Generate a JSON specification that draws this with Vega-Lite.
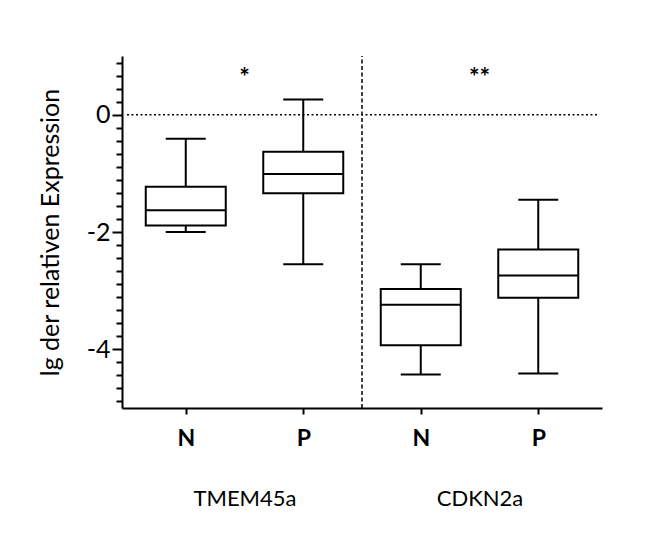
{
  "$schema": "https://vega.github.io/schema/vega-lite/v6.json",
  "width": 480,
  "height": 352,
  "autosize": "none",
  "padding": {"left": 122, "top": 56, "right": 67, "bottom": 125},
  "background": "white",
  "config": {
    "view": {"stroke": null},
    "font": "Lato",
    "axis": {"domainColor": "black", "tickColor": "black", "labelColor": "black", "titleColor": "black", "grid": false}
  },
  "datasets": {
    "boxes": [
      {"gene": "TMEM45a", "group": "N", "x": 0.5, "min": -2.0, "q1": -1.89, "median": -1.63, "q3": -1.23, "max": -0.41},
      {"gene": "TMEM45a", "group": "P", "x": 1.5, "min": -2.55, "q1": -1.34, "median": -1.01, "q3": -0.63, "max": 0.26},
      {"gene": "CDKN2a", "group": "N", "x": 2.5, "min": -4.43, "q1": -3.93, "median": -3.24, "q3": -2.97, "max": -2.55},
      {"gene": "CDKN2a", "group": "P", "x": 3.5, "min": -4.41, "q1": -3.12, "median": -2.74, "q3": -2.30, "max": -1.45}
    ],
    "stars": [
      {"gene": "TMEM45a", "x": 1, "y": 0.62, "label": "*"},
      {"gene": "CDKN2a", "x": 3, "y": 0.62, "label": "**"}
    ]
  },
  "resolve": {"axis": {"x": "independent", "y": "independent"}},
  "layer": [
    {
      "data": {"values": [{}]},
      "mark": {"type": "rule", "strokeDash": [2, 2.5], "strokeWidth": 1.5, "color": "black"},
      "encoding": {
        "x": {"datum": 0, "type": "quantitative", "scale": {"domain": [0, 4]}, "axis": null},
        "x2": {"datum": 4},
        "y": {"datum": 0, "type": "quantitative", "scale": {"domain": [-5, 1]}, "axis": null}
      }
    },
    {
      "data": {"values": [{}]},
      "mark": {"type": "rule", "strokeDash": [4, 2.5], "strokeWidth": 1.5, "color": "black"},
      "encoding": {
        "x": {"datum": 2, "type": "quantitative", "scale": {"domain": [0, 4]}, "axis": null},
        "y": {"datum": -5, "type": "quantitative", "scale": {"domain": [-5, 1]}, "axis": null},
        "y2": {"datum": 1}
      }
    },
    {
      "data": {"name": "boxes"},
      "mark": {"type": "rule", "color": "black", "strokeWidth": 2},
      "encoding": {
        "x": {"field": "x", "type": "quantitative", "scale": {"domain": [0, 4]}, "axis": null},
        "y": {"field": "min", "type": "quantitative", "scale": {"domain": [-5, 1]}, "axis": null},
        "y2": {"field": "max"}
      }
    },
    {
      "data": {"name": "boxes"},
      "mark": {"type": "bar", "size": 80, "fill": "white", "stroke": "black", "strokeWidth": 2},
      "encoding": {
        "x": {"field": "x", "type": "quantitative", "scale": {"domain": [0, 4]},
          "axis": {
            "values": [0.5, 1.5, 2.5, 3.5],
            "labelExpr": "floor(datum.value) % 2 == 0 ? 'N' : 'P'",
            "title": null,
            "orient": "bottom",
            "domainWidth": 2,
            "tickWidth": 2,
            "tickSize": 6,
            "labelFont": "Lato",
            "labelFontWeight": "bold",
            "labelFontSize": 23,
            "labelPadding": 13
          }
        },
        "y": {"field": "q1", "type": "quantitative", "scale": {"domain": [-5, 1]},
          "axis": {
            "values": [0, -2, -4],
            "labelExpr": "datum.value == 0 ? '0' : '-' + abs(datum.value)",
            "orient": "left",
            "title": "lg der relativen Expression",
            "titleFont": "Lato",
            "titleFontWeight": "normal",
            "titleFontSize": 25,
            "titlePadding": 23,
            "labelFont": "Lato",
            "labelFontSize": 25,
            "labelPadding": 2,
            "tickSize": 10,
            "tickWidth": 2,
            "domainWidth": 2
          }
        },
        "y2": {"field": "q3"}
      }
    },
    {
      "data": {"name": "boxes"},
      "mark": {"type": "tick", "orient": "horizontal", "size": 80, "thickness": 2, "color": "black", "opacity": 1},
      "encoding": {
        "x": {"field": "x", "type": "quantitative", "scale": {"domain": [0, 4]}, "axis": null},
        "y": {"field": "median", "type": "quantitative", "scale": {"domain": [-5, 1]}, "axis": null}
      }
    },
    {
      "data": {"name": "boxes"},
      "mark": {"type": "tick", "orient": "horizontal", "size": 40, "thickness": 2, "color": "black", "opacity": 1},
      "encoding": {
        "x": {"field": "x", "type": "quantitative", "scale": {"domain": [0, 4]}, "axis": null},
        "y": {"field": "min", "type": "quantitative", "scale": {"domain": [-5, 1]}, "axis": null}
      }
    },
    {
      "data": {"name": "boxes"},
      "mark": {"type": "tick", "orient": "horizontal", "size": 40, "thickness": 2, "color": "black", "opacity": 1},
      "encoding": {
        "x": {"field": "x", "type": "quantitative", "scale": {"domain": [0, 4]}, "axis": null},
        "y": {"field": "max", "type": "quantitative", "scale": {"domain": [-5, 1]}, "axis": null}
      }
    },
    {
      "data": {"name": "stars"},
      "mark": {"type": "text", "font": "Lato", "fontSize": 25, "fontWeight": "bold", "color": "black", "baseline": "middle"},
      "encoding": {
        "text": {"field": "label"},
        "x": {"field": "x", "type": "quantitative", "scale": {"domain": [0, 4]},
          "axis": {
            "values": [1, 3],
            "labelExpr": "datum.value == 1 ? 'TMEM45a' : 'CDKN2a'",
            "orient": "bottom",
            "title": null,
            "ticks": false,
            "domain": false,
            "labelFont": "Lato",
            "labelFontSize": 22,
            "labelPadding": 80
          }
        },
        "y": {"field": "y", "type": "quantitative", "scale": {"domain": [-5, 1]},
          "axis": {
            "values": [0.8889, 0.6667, 0.4444, 0.2222, -0.2222, -0.4444, -0.6667, -0.8889, -1.1111, -1.3333, -1.5556, -1.7778, -2.2222, -2.4444, -2.6667, -2.8889, -3.1111, -3.3333, -3.5556, -3.7778, -4.2222, -4.4444, -4.6667, -4.8889],
            "orient": "left",
            "labels": false,
            "domain": false,
            "title": null,
            "tickSize": 6,
            "tickWidth": 2
          }
        }
      }
    }
  ]
}
